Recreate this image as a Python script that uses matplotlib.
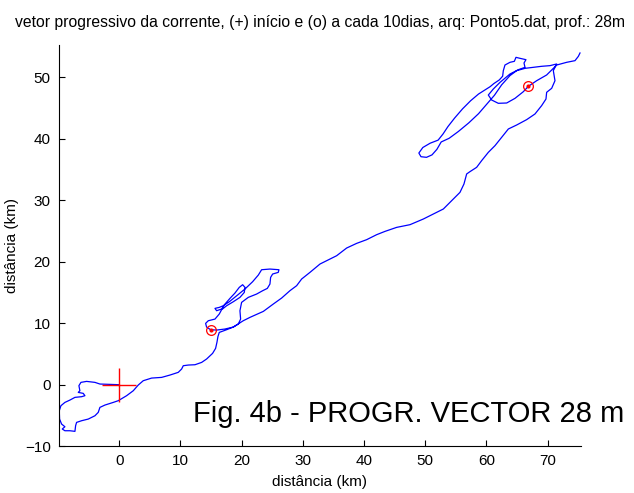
import matplotlib
matplotlib.use('Agg')
import matplotlib.pyplot as plt

plt.rcParams['font.family'] = ['Liberation Sans', 'DejaVu Sans']

# trajetoria (km) - vetor progressivo
x_km = [0.0, -3.16, -3.97, -5.34, -6.26, -6.59, -6.43, -6.70, -5.88, -5.61, -6.15,
        -7.24, -8.06, -8.88, -9.53, -9.80, -9.75, -9.42, -8.88, -9.31, -8.88, -8.06,
        -7.24, -7.13, -6.97, -6.15, -5.06, -3.97, -3.43, -3.16, -2.34, -0.98, -0.16,
        1.20, 2.29, 3.11, 3.92, 5.29, 6.92, 8.28, 9.64, 10.19, 10.46, 11.28, 12.37,
        13.46, 14.27, 15.25, 15.74, 15.96, 16.13, 16.34, 17.54, 18.63,
        19.45, 19.83, 19.72, 19.99, 21.08, 22.44, 23.42, 24.19, 24.62, 24.73, 25.06,
        25.98, 26.09, 24.62, 23.26, 22.72, 21.79, 20.54, 19.18, 17.98, 16.99, 16.34,
        15.64, 15.91, 16.72, 17.27, 18.09, 18.90, 19.61, 20.16, 20.54, 20.43, 19.72,
        18.63, 17.54, 16.72, 16.34, 15.64, 14.55, 14.11, 14.27, 14.93, 15.91, 17.27,
        18.63, 20.26, 21.36, 23.54, 25.17, 26.53, 27.89, 28.98, 29.80, 31.16, 32.80,
        34.43, 35.52, 37.15, 38.79, 40.42, 42.05, 43.42, 45.32, 47.50, 49.68, 51.31,
        52.95, 54.31, 55.67, 56.32, 56.76, 57.30, 58.39, 59.21, 60.30, 61.39, 62.48,
        63.57, 64.93, 66.56, 67.92, 69.01, 69.72, 69.83, 70.65, 71.19, 70.92, 71.47,
        70.38, 69.01, 67.65, 66.29, 64.93, 63.84, 62.48, 61.30, 60.00, 58.70, 57.10,
        55.40, 53.90, 52.60, 51.90, 51.10, 50.20, 49.30, 48.95, 49.60, 50.80, 52.10,
        52.90, 53.70, 54.80, 56.10, 57.40, 58.70, 59.80, 60.60, 61.20, 62.10, 62.64,
        62.75, 63.02, 63.84, 64.55, 64.82, 65.47, 66.45, 66.13, 66.29, 65.20, 63.84,
        62.21, 61.12, 60.30, 60.84, 61.93, 63.30, 64.66, 66.02, 66.84, 68.20, 69.83,
        71.47, 73.10, 74.46, 75.01, 75.28]
y_km = [0.0, 0.11, 0.38, 0.54, 0.38, -0.16, -0.98, -1.25, -1.41, -1.79, -1.95,
        -2.06, -2.50, -2.88, -3.42, -4.23, -5.59, -6.40, -6.84, -7.21, -7.49, -7.49,
        -7.59, -6.67, -6.13, -5.86, -5.59, -5.05, -4.50, -3.69, -3.31, -2.88, -2.60,
        -1.79, -0.98, -0.05, 0.65, 1.08, 1.19, 1.57, 2.01, 2.55, 3.09, 3.20, 3.25,
        3.63, 4.18, 5.10, 5.91, 6.89, 7.86, 8.51, 8.95, 9.38,
        9.87, 10.68, 12.04, 13.40, 14.21, 14.75, 15.29, 15.67, 16.38, 17.46, 18.01,
        18.28, 18.71, 18.82, 18.71, 17.84, 16.76, 15.57, 14.48, 13.50, 12.85, 12.58,
        12.42, 12.04, 12.31, 13.12, 14.05, 14.91, 15.84, 16.27, 15.84, 15.02, 14.21,
        13.50, 12.85, 12.20, 11.50, 10.68, 10.41, 9.98, 9.38, 8.95, 8.89, 9.06,
        9.38, 10.41, 10.96, 11.93, 13.13, 14.10, 15.30, 16.11, 17.20, 18.28, 19.64,
        20.45, 20.99, 22.24, 23.00, 23.60, 24.41, 24.95, 25.60, 26.04, 26.96, 27.78,
        28.59, 29.95, 31.30, 32.66, 34.29, 34.67, 35.37, 36.46, 37.81, 38.90, 40.25,
        41.61, 42.26, 43.13, 44.05, 45.41, 46.49, 47.58, 48.23, 49.47, 51.10, 52.19,
        51.92, 51.81, 51.64, 51.48, 51.10, 50.30, 48.80, 47.10, 45.60, 44.10, 42.60,
        41.20, 40.10, 39.50, 38.30, 37.40, 37.00, 37.10, 37.70, 38.60, 39.30, 39.80,
        40.80, 42.00, 43.40, 44.90, 46.20, 47.30, 48.00, 48.50, 49.00, 49.60, 50.20,
        51.10, 52.02, 52.46, 52.62, 53.27, 53.11, 52.89, 52.35, 51.64, 51.26, 50.56,
        49.20, 48.12, 47.14, 46.33, 45.79, 45.84, 46.60, 47.68, 48.55, 49.47, 50.40,
        52.02, 52.46, 52.73, 53.43, 53.98]

# marcas a cada 10 dias
x_10d = [14.93, 66.84]
y_10d = [8.95, 48.55]

fig = plt.figure(figsize=(6.34, 4.93), dpi=100)
ax = fig.add_axes([0.093, 0.095, 0.823, 0.814])

ax.plot(x_km, y_km, color='blue', lw=0.9)
ax.plot([0], [0], '+', color='red', markersize=25, markeredgewidth=1.0)
ax.plot(x_10d, y_10d, 'o', color='red', markerfacecolor='none', markersize=7, markeredgewidth=0.9)
ax.plot(x_10d, y_10d, '.', color='red', markersize=4)

ax.set_xlim(-9.85, 75.4)
ax.set_ylim(-10, 55.3)
ax.set_xticks(range(0, 71, 10))
ax.set_yticks(range(-10, 51, 10))
ax.spines['top'].set_visible(False)
ax.spines['right'].set_visible(False)
ax.tick_params(direction='in', length=4, labelsize=11, pad=6)

ax.set_xlabel('distância (km)', fontsize=11, labelpad=5)
ax.set_ylabel('distância (km)', fontsize=11, labelpad=4)
ax.set_title('vetor progressivo da corrente, (+) início e (o) a cada 10dias, arq: Ponto5.dat, prof.: 28m',
             fontsize=11.3, pad=13)

fig.text(193 / 634, 1 - 422 / 493, 'Fig. 4b - PROGR. VECTOR 28 m', fontsize=21,
         va='baseline', ha='left')

fig.savefig('out.png', dpi=100)
